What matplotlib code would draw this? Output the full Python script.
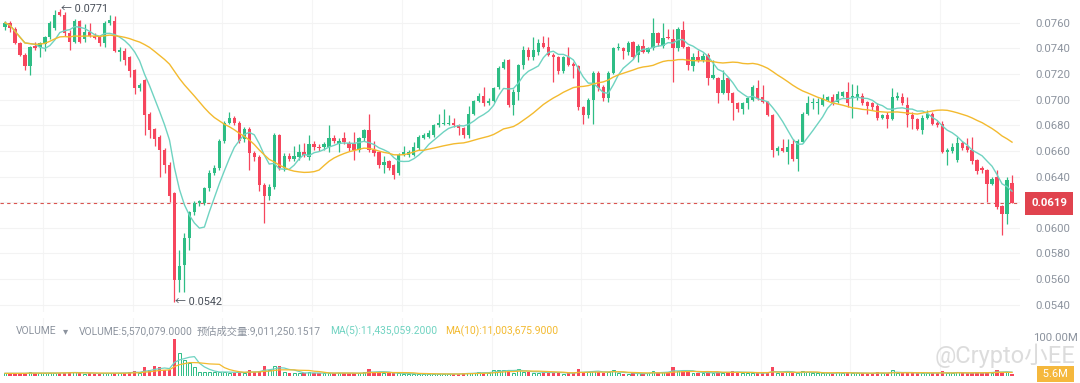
import numpy as np
import pandas as pd
import matplotlib
matplotlib.use('Agg')
import matplotlib.pyplot as plt

plt.rcParams['font.family'] = ['Roboto', 'Noto Sans CJK SC', 'DejaVu Sans']

# OHLC, one row per candle
opens = [0.0757,0.0760,0.0755,0.0744,0.0735,0.0726,0.0742,0.0741,0.0743,0.0749,
         0.0756,0.0768,0.0766,0.0752,0.0745,0.0761,0.0747,0.0753,0.0750,0.0749,
         0.0744,0.0760,0.0761,0.0737,0.0738,0.0733,0.0723,0.0709,0.0715,0.0689,
         0.0677,0.0671,0.0661,0.0649,0.0627,0.0559,0.0571,0.0592,0.0612,0.0619,
         0.0619,0.0631,0.0643,0.0647,0.0668,0.0682,0.0686,0.0682,0.0669,0.0677,
         0.0658,0.0655,0.0633,0.0625,0.0632,0.0672,0.0647,0.0656,0.0654,0.0655,
         0.0659,0.0655,0.0665,0.0663,0.0663,0.0663,0.0670,0.0665,0.0670,0.0666,
         0.0665,0.0661,0.0670,0.0676,0.0661,0.0659,0.0649,0.0652,0.0649,0.0643,
         0.0657,0.0657,0.0657,0.0662,0.0670,0.0671,0.0672,0.0680,0.0681,0.0681,
         0.0682,0.0680,0.0678,0.0672,0.0689,0.0699,0.0703,0.0697,0.0699,0.0710,
         0.0725,0.0731,0.0696,0.0706,0.0727,0.0739,0.0733,0.0737,0.0744,0.0741,
         0.0735,0.0733,0.0722,0.0733,0.0728,0.0726,0.0694,0.0688,0.0700,0.0721,
         0.0710,0.0701,0.0721,0.0740,0.0740,0.0737,0.0745,0.0735,0.0742,0.0737,
         0.0740,0.0752,0.0742,0.0749,0.0747,0.0740,0.0754,0.0741,0.0726,0.0733,
         0.0731,0.0735,0.0717,0.0717,0.0705,0.0717,0.0705,0.0697,0.0693,0.0697,
         0.0700,0.0709,0.0702,0.0698,0.0688,0.0660,0.0662,0.0659,0.0665,0.0654,
         0.0667,0.0689,0.0697,0.0697,0.0696,0.0700,0.0702,0.0698,0.0703,0.0706,
         0.0701,0.0702,0.0703,0.0698,0.0697,0.0695,0.0686,0.0688,0.0685,0.0701,
         0.0702,0.0696,0.0688,0.0685,0.0676,0.0686,0.0689,0.0682,0.0681,0.0659,
         0.0660,0.0653,0.0666,0.0664,0.0661,0.0653,0.0647,0.0645,0.0634,0.0640,
         0.0617,0.0611,0.0635]
highs = [0.0761,0.0761,0.0757,0.0745,0.0736,0.0742,0.0745,0.0745,0.0750,0.0761,
         0.0770,0.0771,0.0768,0.0754,0.0763,0.0762,0.0759,0.0760,0.0752,0.0750,
         0.0761,0.0766,0.0765,0.0741,0.0740,0.0734,0.0724,0.0713,0.0716,0.0690,
         0.0678,0.0672,0.0662,0.0651,0.0628,0.0583,0.0596,0.0613,0.0621,0.0622,
         0.0632,0.0645,0.0649,0.0669,0.0683,0.0690,0.0687,0.0683,0.0679,0.0679,
         0.0660,0.0657,0.0635,0.0634,0.0674,0.0673,0.0658,0.0658,0.0664,0.0665,
         0.0666,0.0672,0.0668,0.0665,0.0667,0.0680,0.0672,0.0670,0.0675,0.0668,
         0.0675,0.0671,0.0677,0.0689,0.0668,0.0660,0.0656,0.0653,0.0650,0.0658,
         0.0664,0.0661,0.0667,0.0672,0.0674,0.0676,0.0681,0.0689,0.0693,0.0688,
         0.0686,0.0681,0.0679,0.0695,0.0700,0.0705,0.0710,0.0701,0.0710,0.0726,
         0.0732,0.0732,0.0708,0.0728,0.0742,0.0741,0.0749,0.0747,0.0750,0.0749,
         0.0736,0.0734,0.0734,0.0741,0.0729,0.0727,0.0695,0.0701,0.0722,0.0722,
         0.0711,0.0722,0.0741,0.0744,0.0741,0.0746,0.0746,0.0743,0.0747,0.0741,
         0.0764,0.0753,0.0760,0.0755,0.0755,0.0757,0.0761,0.0742,0.0736,0.0739,
         0.0736,0.0736,0.0731,0.0718,0.0723,0.0718,0.0706,0.0698,0.0698,0.0702,
         0.0711,0.0715,0.0711,0.0699,0.0689,0.0664,0.0669,0.0669,0.0669,0.0669,
         0.0690,0.0703,0.0701,0.0701,0.0704,0.0703,0.0704,0.0707,0.0707,0.0714,
         0.0712,0.0711,0.0705,0.0699,0.0698,0.0697,0.0689,0.0690,0.0709,0.0706,
         0.0705,0.0702,0.0690,0.0686,0.0688,0.0692,0.0690,0.0683,0.0683,0.0662,
         0.0666,0.0671,0.0668,0.0670,0.0671,0.0654,0.0648,0.0646,0.0640,0.0645,
         0.0618,0.0640,0.0641]
lows = [0.0754,0.0753,0.0743,0.0734,0.0723,0.0719,0.0739,0.0733,0.0738,0.0747,
        0.0754,0.0765,0.0750,0.0739,0.0744,0.0744,0.0745,0.0749,0.0747,0.0742,
        0.0741,0.0758,0.0737,0.0730,0.0727,0.0718,0.0704,0.0707,0.0672,0.0670,
        0.0664,0.0640,0.0643,0.0620,0.0542,0.0550,0.0550,0.0583,0.0610,0.0617,
        0.0618,0.0629,0.0641,0.0645,0.0666,0.0681,0.0680,0.0666,0.0667,0.0645,
        0.0652,0.0629,0.0604,0.0622,0.0630,0.0645,0.0644,0.0652,0.0652,0.0653,
        0.0655,0.0653,0.0661,0.0660,0.0661,0.0659,0.0666,0.0659,0.0665,0.0660,
        0.0653,0.0659,0.0668,0.0659,0.0656,0.0647,0.0643,0.0645,0.0638,0.0641,
        0.0656,0.0655,0.0656,0.0661,0.0669,0.0670,0.0671,0.0679,0.0680,0.0680,
        0.0679,0.0672,0.0670,0.0670,0.0688,0.0698,0.0695,0.0696,0.0698,0.0708,
        0.0724,0.0694,0.0688,0.0700,0.0724,0.0731,0.0731,0.0735,0.0740,0.0734,
        0.0714,0.0720,0.0721,0.0726,0.0717,0.0692,0.0681,0.0686,0.0681,0.0707,
        0.0699,0.0698,0.0720,0.0739,0.0732,0.0735,0.0732,0.0729,0.0736,0.0736,
        0.0739,0.0742,0.0740,0.0747,0.0714,0.0738,0.0740,0.0723,0.0722,0.0729,
        0.0729,0.0711,0.0716,0.0697,0.0704,0.0700,0.0684,0.0690,0.0689,0.0693,
        0.0699,0.0700,0.0697,0.0687,0.0655,0.0657,0.0659,0.0650,0.0652,0.0644,
        0.0666,0.0688,0.0693,0.0689,0.0695,0.0699,0.0696,0.0697,0.0702,0.0694,
        0.0686,0.0700,0.0696,0.0689,0.0692,0.0684,0.0685,0.0678,0.0684,0.0700,
        0.0696,0.0679,0.0677,0.0676,0.0673,0.0685,0.0680,0.0679,0.0658,0.0649,
        0.0658,0.0651,0.0661,0.0659,0.0650,0.0642,0.0643,0.0620,0.0633,0.0615,
        0.0594,0.0603,0.0619]
closes = [0.0760,0.0756,0.0744,0.0735,0.0726,0.0741,0.0740,0.0744,0.0749,0.0760,
          0.0766,0.0766,0.0752,0.0745,0.0761,0.0745,0.0753,0.0750,0.0748,0.0744,
          0.0760,0.0762,0.0738,0.0739,0.0731,0.0722,0.0709,0.0711,0.0688,0.0676,
          0.0669,0.0661,0.0649,0.0625,0.0559,0.0570,0.0592,0.0612,0.0619,0.0621,
          0.0631,0.0643,0.0647,0.0668,0.0682,0.0686,0.0682,0.0668,0.0677,0.0658,
          0.0655,0.0633,0.0625,0.0632,0.0672,0.0647,0.0656,0.0654,0.0656,0.0659,
          0.0657,0.0665,0.0663,0.0662,0.0665,0.0670,0.0668,0.0668,0.0667,0.0662,
          0.0661,0.0670,0.0676,0.0661,0.0658,0.0649,0.0651,0.0647,0.0641,0.0657,
          0.0659,0.0659,0.0663,0.0671,0.0672,0.0674,0.0680,0.0682,0.0682,0.0682,
          0.0680,0.0678,0.0672,0.0689,0.0699,0.0703,0.0697,0.0699,0.0709,0.0725,
          0.0729,0.0696,0.0706,0.0727,0.0739,0.0733,0.0739,0.0744,0.0741,0.0735,
          0.0733,0.0722,0.0733,0.0727,0.0726,0.0694,0.0688,0.0700,0.0721,0.0709,
          0.0701,0.0721,0.0740,0.0741,0.0738,0.0744,0.0733,0.0742,0.0737,0.0740,
          0.0752,0.0744,0.0748,0.0748,0.0740,0.0755,0.0741,0.0727,0.0733,0.0730,
          0.0734,0.0717,0.0719,0.0705,0.0715,0.0705,0.0697,0.0693,0.0697,0.0701,
          0.0710,0.0701,0.0698,0.0688,0.0661,0.0662,0.0660,0.0663,0.0654,0.0668,
          0.0689,0.0697,0.0698,0.0698,0.0701,0.0702,0.0697,0.0704,0.0706,0.0697,
          0.0703,0.0704,0.0697,0.0695,0.0694,0.0686,0.0688,0.0685,0.0702,0.0703,
          0.0697,0.0688,0.0685,0.0677,0.0686,0.0689,0.0681,0.0680,0.0659,0.0661,
          0.0663,0.0666,0.0662,0.0661,0.0652,0.0644,0.0645,0.0634,0.0638,0.0616,
          0.0611,0.0637,0.0619]
# volume in millions
volumes = [7.4,7.4,7.4,7.4,7.4,11.1,7.4,7.4,7.4,9.3,
           9.3,7.4,9.3,11.1,11.1,7.0,6.5,7.4,6.8,7.4,
           8.0,7.4,8.5,9.0,9.3,11.1,13.9,7.4,25.0,16.7,
           27.8,25.0,16.7,16.7,102.0,63.0,44.0,35.0,25.0,11.1,
           11.1,11.1,11.1,11.1,11.1,9.3,9.3,9.3,9.3,16.7,
           11.1,13.9,27.8,16.7,27.8,27.8,11.1,7.4,9.3,7.4,
           7.4,11.1,7.4,7.4,7.4,9.3,7.4,9.3,7.4,7.4,
           7.4,7.4,11.1,20.4,9.3,11.1,7.4,7.4,7.4,7.4,
           5.6,5.6,5.6,5.6,5.6,5.6,5.6,5.6,5.6,5.6,
           5.6,5.6,9.3,9.3,7.4,11.1,9.3,9.3,16.7,16.7,
           16.7,16.7,9.3,20.4,11.1,11.1,7.4,9.3,11.1,11.1,
           9.3,9.3,5.6,7.4,7.4,20.4,11.1,11.1,13.9,11.1,
           9.3,11.1,16.7,7.4,5.6,5.6,7.4,7.4,7.4,7.4,
           13.9,9.3,11.1,11.1,25.0,13.9,13.9,11.1,9.3,7.4,
           9.3,11.1,7.4,11.1,9.3,11.1,13.9,11.1,7.4,7.4,
           9.3,7.4,7.4,11.1,26.0,7.4,7.4,11.1,7.4,9.3,
           13.9,11.1,7.4,7.4,7.4,7.4,7.4,11.1,9.3,9.3,
           7.4,7.4,7.4,7.4,7.4,11.1,7.4,7.4,16.7,9.3,
           7.4,7.4,7.4,9.3,9.3,7.4,7.4,7.4,13.9,7.4,
           7.4,11.1,7.4,7.4,9.3,11.1,7.4,11.1,9.3,16.7,
           11.1,11.1,5.57]

price_ticks = [0.0760,0.0740,0.0720,0.0700,0.0680,0.0660,0.0640,0.0620,0.0600,0.0580,0.0560,0.0540]
last_price = 0.0619
hi_label = '0.0771'
lo_label = '0.0542'

up_col = '#2ebd85'
dn_col = '#f6465d'
ma7_col = '#6fd3c1'
ma30_col = '#f3ba2f'
txt_col = '#8c939e'

df = pd.DataFrame({'open': opens, 'high': highs, 'low': lows, 'close': closes, 'vol': volumes})
x = np.arange(len(df))
up = df.close >= df.open
ma7 = df.close.rolling(7, min_periods=1).mean()
ma30 = df.close.rolling(30, min_periods=1).mean()
vma5 = df.vol.rolling(5, min_periods=1).mean()
vma10 = df.vol.rolling(10, min_periods=1).mean()

fig = plt.figure(figsize=(10.8, 3.83), dpi=100)
W, H = 1080.0, 383.0
ax = fig.add_axes([0, 1 - 312 / H, 1020 / W, 312 / H])
axv = fig.add_axes([0, 1 - 376 / H, 1020 / W, 58 / H], sharex=ax)

xlim = (-1.0, 203.6)

# price panel
for a in (ax, axv):
    for s in a.spines.values():
        s.set_visible(False)
    a.set_facecolor('none')
    a.tick_params(length=0)
for k in np.arange(7.6, 204, 18):
    ax.axvline(k, color='#f5f5f5', lw=0.8, zorder=0)
    axv.axvline(k, color='#f5f5f5', lw=0.8, zorder=0)
for t in price_ticks:
    ax.axhline(t, color='#f3f3f3', lw=0.8, zorder=0)

cols = np.where(up, up_col, dn_col)
ax.vlines(x, df.low, df.high, colors=cols, lw=0.9, zorder=2)
body_lo = np.minimum(df.open, df.close)
body_h = np.maximum(np.abs(df.close - df.open), 0.00006)
ax.bar(x, body_h, bottom=body_lo, width=0.66, color=cols, zorder=3)
ax.plot(x, ma7, color=ma7_col, lw=1.0, zorder=4)
ax.plot(x, ma30, color=ma30_col, lw=1.0, zorder=4)

ax.axhline(last_price, color='#d9534f', lw=0.8, ls=(0, (3, 3)), zorder=1)

ax.set_xlim(*xlim)
ax.set_ylim(0.05343, 0.07777)
# the 0.0620 label sits under the last-price tag, so leave it blank
ax.set_yticks(price_ticks)
ax.set_yticklabels(['' if t == 0.0620 else '%.4f' % t for t in price_ticks],
                   color=txt_col, fontsize=8.2)
ax.yaxis.tick_right()
ax.tick_params(axis='y', pad=11)
ax.set_xticks([])

# high / low markers
i_hi = int(np.argmax(df.high))
i_lo = int(np.argmin(df.low))
ax.text(i_hi + 0.2, df.high[i_hi], '\u2190 ' + hi_label, fontsize=7.8, color='#474d57',
        ha='left', va='center', zorder=5)
ax.text(i_lo + 0.2, df.low[i_lo], '\u2190 ' + lo_label, fontsize=7.8, color='#474d57',
        ha='left', va='center', zorder=5)

# last price tag
ax.text(1.0 + 11 / 1020, last_price, '0.0619', transform=ax.get_yaxis_transform(),
        fontsize=8.2, color='white', fontweight='bold', ha='left', va='center', clip_on=False,
        bbox=dict(boxstyle='square,pad=0.55', fc='#e0434e', ec='none'))

# volume panel
axv.bar(x[~up], df.vol[~up], width=0.66, color=dn_col, zorder=3)
axv.bar(x[up], df.vol[up], width=0.56, facecolor='white', edgecolor=up_col, lw=0.7, zorder=3)
axv.plot(x, vma5, color=ma7_col, lw=0.9, zorder=4)
axv.plot(x, vma10, color=ma30_col, lw=0.9, zorder=4)
axv.set_ylim(0, 161)
axv.set_xlim(*xlim)
axv.set_yticks([])
axv.set_xticks([])

fig.text(1033 / W, 1 - 338 / H, '100.00M', fontsize=8.2, color=txt_col, va='center')
fig.text(1040 / W, 1 - 374 / H, ' 5.6M ', fontsize=8, color='white', va='center',
         bbox=dict(boxstyle='square,pad=0.3', fc='#f5b83d', ec='none'))

# volume legend line
yl = 1 - 331 / H
fig.text(16 / W, yl, 'VOLUME', fontsize=7.4, color=txt_col, va='center')
fig.text(63 / W, yl, '\u25be', fontsize=7.4, color=txt_col, va='center')
fig.text(79 / W, yl, 'VOLUME:5,570,079.0000', fontsize=7.4, color=txt_col, va='center')
fig.text(197 / W, yl, '预估成交量:9,011,250.1517', fontsize=7.4, color=txt_col, va='center')
fig.text(330 / W, yl, 'MA(5):11,435,059.2000', fontsize=7.4, color=ma7_col, va='center')
fig.text(445 / W, yl, 'MA(10):11,003,675.9000', fontsize=7.4, color=ma30_col, va='center')

# watermark
fig.text(935 / W, 1 - 356 / H, '@Crypto小EE', fontsize=17, color='#d4d4d4', va='center', alpha=0.8)

fig.savefig('out.png', dpi=100, facecolor='white')
